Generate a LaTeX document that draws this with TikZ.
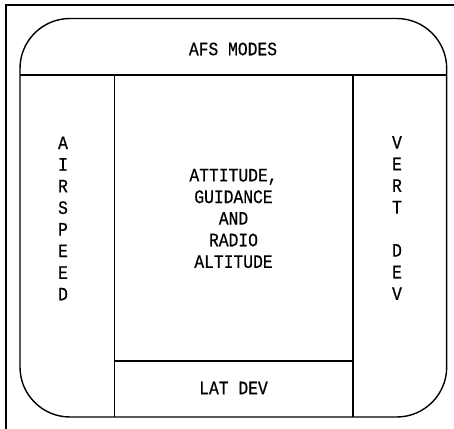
\documentclass[tikz,border=0pt]{standalone}
\usepackage{fontspec}
\newfontfamily\panelfont[FakeStretch=0.86, FakeBold=0.6]{Liberation Mono}
\tikzset{
  panel/.style={line width=0.8pt},
  lbl/.style={font=\panelfont\fontsize{10.8}{12.3}\selectfont, align=center, inner sep=0pt}
}
\begin{document}
\begin{tikzpicture}[x=0.02cm, y=-0.02cm]
\useasboundingbox (0,0) rectangle (454,429);
\def\outerframe{(6,5) rectangle (470,445)}
\def\innerpanel{(20,18.5) rectangle (446.7,417)}
\draw[line width=0.7pt] \outerframe;
\draw[panel, rounded corners=1cm] \innerpanel;
%\draw[panel] (20,75) -- (446.7,75);
\draw[panel] (20,75) -- (446.7,75);
\draw[panel] (114.3,75) -- (114.3,417);
\draw[panel] (353,75) -- (353,417);
\draw[panel] (114.3,361) -- (353,361);
\node[lbl] (afs) at (233,49) {AFS MODES};
\node[lbl] (att) at (233.5,218.5) {ATTITUDE,\\GUIDANCE\\AND\\RADIO\\ALTITUDE};
\node[lbl] (spd) at (63,218.5) {A\\I\\R\\S\\P\\E\\E\\D};
\node[lbl] (vdev) at (397,218) {V\\E\\R\\T\\~\\D\\E\\V};
\node[lbl] (ldev) at (233.5,388) {LAT DEV};
\end{tikzpicture}
\end{document}
